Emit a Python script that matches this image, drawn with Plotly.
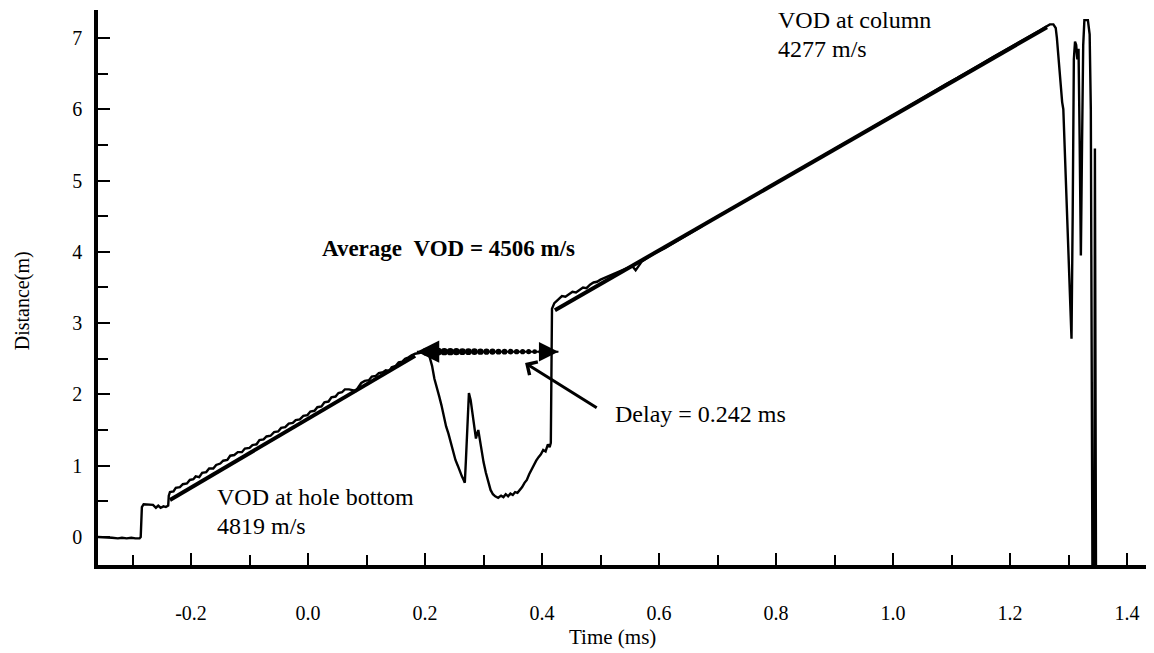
import numpy as np
import plotly.graph_objects as go

# ---------------- data ----------------
trace_t = [
    -0.359, -0.345, -0.335, -0.325, -0.318, -0.310, -0.302, -0.295, -0.288, -0.286,
    -0.284, -0.281, -0.272, -0.265, -0.260, -0.256, -0.252, -0.247, -0.243, -0.239,
    -0.238, -0.236, -0.230, -0.226, -0.219, -0.214, -0.207, -0.202, -0.196, -0.192,
    -0.186, -0.181, -0.174, -0.169, -0.162, -0.157, -0.150, -0.145, -0.138, -0.133,
    -0.126, -0.120, -0.113, -0.108, -0.100, -0.095, -0.088, -0.083, -0.076, -0.071,
    -0.064, -0.058, -0.051, -0.046, -0.039, -0.033, -0.026, -0.021, -0.014, -0.008,
    -0.001, 0.004, 0.011, 0.016, 0.023, 0.028, 0.035, 0.040, 0.047, 0.052,
    0.058, 0.063, 0.070, 0.076, 0.082, 0.086, 0.091, 0.097, 0.104, 0.109,
    0.116, 0.121, 0.128, 0.133, 0.139, 0.143, 0.150, 0.155, 0.161, 0.166,
    0.172, 0.177, 0.183, 0.190, 0.197, 0.203,
    0.207, 0.212, 0.216, 0.220, 0.224, 0.228, 0.232, 0.236, 0.240, 0.244,
    0.248, 0.252, 0.256, 0.260, 0.263, 0.266, 0.268, 0.270, 0.273, 0.275,
    0.278, 0.281, 0.284, 0.287, 0.289, 0.291, 0.293, 0.296, 0.300, 0.304,
    0.308, 0.312, 0.316, 0.320, 0.325, 0.330, 0.334, 0.338, 0.342, 0.346,
    0.350, 0.354, 0.358, 0.362, 0.366, 0.370, 0.374, 0.378, 0.382, 0.386,
    0.390, 0.394, 0.398, 0.402, 0.406, 0.410, 0.413, 0.415,
    0.417, 0.421, 0.428, 0.434, 0.440, 0.446, 0.452, 0.458, 0.464, 0.470,
    0.476, 0.482, 0.488, 0.494, 0.500, 0.506, 0.512, 0.518, 0.524, 0.530,
    0.536, 0.542, 0.548, 0.554, 0.560, 0.570, 0.590, 0.610, 0.630, 0.650,
    0.670, 0.690, 0.710, 0.730, 0.750, 0.770, 0.790, 0.810, 0.830, 0.850,
    0.870, 0.890, 0.910, 0.930, 0.950, 0.970, 0.990, 1.010, 1.030, 1.050,
    1.070, 1.090, 1.110, 1.130, 1.150, 1.170, 1.190, 1.210, 1.230, 1.250,
    1.262, 1.268, 1.274, 1.278, 1.280, 1.282, 1.284, 1.287, 1.289, 1.291,
    1.292, 1.293, 1.294, 1.297, 1.300, 1.303, 1.305, 1.307, 1.309, 1.311,
    1.313, 1.315, 1.317, 1.319, 1.321, 1.323, 1.325, 1.327, 1.333, 1.336,
    1.338, 1.341, 1.344, 1.345, 1.347,
]
trace_d = [
    0.00, 0.00, -0.01, -0.02, -0.01, -0.02, -0.01, -0.02, -0.02, 0.00,
    0.42, 0.46, 0.46, 0.45, 0.41, 0.44, 0.41, 0.43, 0.42, 0.44,
    0.58, 0.63, 0.64, 0.69, 0.70, 0.74, 0.75, 0.80, 0.81, 0.85,
    0.84, 0.90, 0.91, 0.96, 0.96, 1.01, 1.03, 1.07, 1.08, 1.14,
    1.15, 1.19, 1.19, 1.24, 1.25, 1.29, 1.30, 1.36, 1.37, 1.41,
    1.42, 1.47, 1.48, 1.53, 1.54, 1.59, 1.60, 1.64, 1.65, 1.70,
    1.71, 1.76, 1.77, 1.82, 1.83, 1.89, 1.90, 1.96, 1.97, 2.02,
    2.03, 2.07, 2.07, 2.06, 2.05, 2.10, 2.16, 2.19, 2.20, 2.25,
    2.26, 2.30, 2.31, 2.34, 2.33, 2.38, 2.40, 2.45, 2.46, 2.50,
    2.52, 2.55, 2.57, 2.58, 2.60, 2.61,
    2.55, 2.40, 2.22, 2.08, 1.98, 1.85, 1.68, 1.55, 1.45, 1.33,
    1.20, 1.08, 1.00, 0.90, 0.85, 0.80, 0.76, 1.10, 1.70, 2.02,
    1.92, 1.72, 1.50, 1.38, 1.45, 1.50, 1.40, 1.22, 1.05, 0.90,
    0.78, 0.66, 0.60, 0.57, 0.55, 0.58, 0.56, 0.60, 0.57, 0.61,
    0.59, 0.63, 0.62, 0.66, 0.70, 0.76, 0.80, 0.88, 0.95, 1.00,
    1.07, 1.12, 1.16, 1.22, 1.20, 1.30, 1.26, 1.32,
    3.20, 3.28, 3.33, 3.38, 3.37, 3.40, 3.44, 3.43, 3.47, 3.50,
    3.49, 3.54, 3.57, 3.58, 3.61, 3.63, 3.65, 3.67, 3.69, 3.72,
    3.73, 3.76, 3.78, 3.80, 3.74, 3.86, 3.97, 4.05, 4.15, 4.24,
    4.34, 4.45, 4.54, 4.63, 4.73, 4.82, 4.92, 5.02, 5.11, 5.20,
    5.30, 5.40, 5.49, 5.58, 5.68, 5.78, 5.87, 5.96, 6.06, 6.15,
    6.25, 6.35, 6.44, 6.53, 6.63, 6.73, 6.82, 6.91, 7.01, 7.10,
    7.16, 7.19, 7.19, 7.14, 7.00, 6.80, 6.55, 6.30, 6.10, 6.00,
    5.75, 5.55, 5.40, 4.60, 3.80, 3.10, 2.78, 4.50, 6.70, 6.95,
    6.90, 6.70, 6.85, 5.50, 3.95, 5.50, 6.90, 7.25, 7.25, 7.05,
    6.00, -1.00, -1.00, 5.45, -1.00,
]

# straight-line fits drawn on the trace
fit1_t = [-0.236, 0.183]
fit1_d = [0.52, 2.54]
fit2_t = [0.422, 1.263]
fit2_d = [3.18, 7.15]

# delay marker
delay_start = 0.186
delay_ms = 0.242
delay_level = 2.60
pointer_head = [0.371, 2.44]
pointer_tail = [0.496, 1.80]

x_tick_vals = [-0.2, 0.0, 0.2, 0.4, 0.6, 0.8, 1.0, 1.2, 1.4]
x_tick_text = ["-0.2", "0.0", "0.2", "0.4", "0.6", "0.8", "1.0", "1.2", "1.4"]
y_tick_vals = [0, 1, 2, 3, 4, 5, 6, 7]
y_tick_text = ["0", "1", "2", "3", "4", "5", "6", "7"]

FONT = "Liberation Serif, Times New Roman, serif"

fig = go.Figure()

fig.add_trace(go.Scatter(x=trace_t, y=trace_d, mode="lines",
                         line=dict(color="black", width=2.4), showlegend=False,
                         hoverinfo="skip"))
fig.add_trace(go.Scatter(x=fit1_t, y=fit1_d, mode="lines",
                         line=dict(color="black", width=4), showlegend=False))
fig.add_trace(go.Scatter(x=fit2_t, y=fit2_d, mode="lines",
                         line=dict(color="black", width=4), showlegend=False))

# beaded delay line
n_dots = 21
dot_x = np.linspace(delay_start + 0.016, delay_start + delay_ms - 0.02, n_dots)
dot_y = np.full(n_dots, delay_level)
fig.add_trace(go.Scatter(x=[delay_start, delay_start + delay_ms],
                         y=[delay_level, delay_level], mode="lines",
                         line=dict(color="black", width=2), showlegend=False))
fig.add_trace(go.Scatter(x=dot_x, y=dot_y, mode="markers", opacity=1,
                         marker=dict(color="black", size=np.linspace(8, 4.5, n_dots),
                                     opacity=1, line=dict(width=0)),
                         showlegend=False))

annotations = []
# arrowheads of the delay line
annotations.append(dict(x=delay_start, y=delay_level, ax=delay_start + 0.03, ay=delay_level,
                        xref="x", yref="y", axref="x", ayref="y", text="",
                        showarrow=True, arrowhead=2, arrowsize=1.4, arrowwidth=3.2,
                        arrowcolor="black"))
annotations.append(dict(x=delay_start + delay_ms, y=delay_level,
                        ax=delay_start + delay_ms - 0.03, ay=delay_level,
                        xref="x", yref="y", axref="x", ayref="y", text="",
                        showarrow=True, arrowhead=2, arrowsize=1.3, arrowwidth=3,
                        arrowcolor="black"))
# pointer arrow
annotations.append(dict(x=pointer_head[0], y=pointer_head[1],
                        ax=pointer_tail[0], ay=pointer_tail[1],
                        xref="x", yref="y", axref="x", ayref="y", text="",
                        showarrow=True, arrowhead=4, arrowsize=1.0, arrowwidth=3,
                        arrowcolor="black"))

def label(text, x, y, size=24, bold=False):
    t = f"<b>{text}</b>" if bold else text
    annotations.append(dict(x=x, y=y, xref="x", yref="y", text=t, showarrow=False,
                            xanchor="left", yanchor="middle",
                            font=dict(family=FONT, size=size, color="black")))

label("VOD at hole bottom", -0.159, 0.56)
label("4819 m/s", -0.159, 0.15)
label("VOD at column", 0.80, 7.25)
label("4277 m/s", 0.80, 6.85)
label("Average&nbsp;&nbsp;VOD = 4506 m/s", 0.0205, 4.04, size=23, bold=True)
label("Delay = 0.242 ms", 0.521, 1.725)

# axis titles
annotations.append(dict(x=0.487, y=-0.13, xref="paper", yref="paper", text="Time (ms)",
                        showarrow=False, xanchor="center", yanchor="middle",
                        font=dict(family=FONT, size=21, color="black")))
annotations.append(dict(x=-0.072, y=0.477, xref="paper", yref="paper", text="Distance(m)",
                        showarrow=False, xanchor="center", yanchor="middle", textangle=-90,
                        font=dict(family=FONT, size=20, color="black")))

# the page body has an 8px margin, so the figure is offset by 8px
fig.update_layout(
    width=1146, height=645,
    margin=dict(l=90, r=0, t=2, b=88),
    paper_bgcolor="white", plot_bgcolor="white",
    font=dict(family=FONT, color="black"),
    annotations=annotations,
    showlegend=False,
    xaxis=dict(range=[-0.359, 1.446], showgrid=False, zeroline=False,
               showline=True, linecolor="black", linewidth=3.5,
               ticks="inside", ticklen=12, tickwidth=1.5, tickcolor="black",
               tickvals=x_tick_vals, ticktext=x_tick_text,
               tickfont=dict(family=FONT, size=20, color="black"),
               ticklabelstandoff=27,
               minor=dict(ticks="inside", dtick=0.1, tick0=0, ticklen=10,
                          tickwidth=1.5, tickcolor="black", showgrid=False)),
    yaxis=dict(range=[-0.393, 7.392], showgrid=False, zeroline=False,
               showline=True, linecolor="black", linewidth=3.5,
               ticks="inside", ticklen=12, tickwidth=1.5, tickcolor="black",
               tickvals=y_tick_vals, ticktext=y_tick_text,
               tickfont=dict(family=FONT, size=20, color="black"),
               ticklabelstandoff=8,
               minor=dict(ticks="inside", dtick=0.5, tick0=0, ticklen=10,
                          tickwidth=1.5, tickcolor="black", showgrid=False)),
)

fig.write_html("out.html")
